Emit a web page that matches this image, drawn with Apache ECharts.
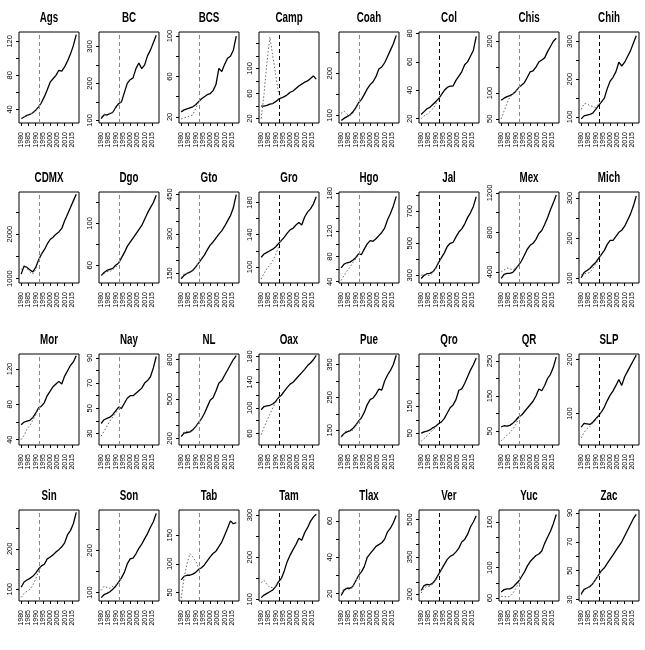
<!DOCTYPE html>
<html>
<head>
<meta charset="utf-8">
<script src="https://cdn.jsdelivr.net/npm/echarts@6/dist/echarts.min.js"></script>
<style>
  html, body { margin: 0; padding: 0; background: #fff; }
  #chart { width: 645px; height: 650px; }
</style>
</head>
<body>
<div id="chart"></div>
<script>
// ---------------- DATA ----------------
const YEARS = [1980,1982,1984,1986,1988,1990,1992,1994,1996,1998,2000,2002,2004,2006,2008,2010,2012,2014,2016,2018];
const SYN_YEARS = [1980,1982,1984,1986,1988,1990,1992,1994];
const X_TICKS = [1980,1985,1990,1995,2000,2005,2010,2015];
const TREATMENT_YEAR = 1992.25;

const STATES = ["Ags","BC","BCS","Camp","Coah","Col","Chis","Chih",
                "CDMX","Dgo","Gto","Gro","Hgo","Jal","Mex","Mich",
                "Mor","Nay","NL","Oax","Pue","Qro","QR","SLP",
                "Sin","Son","Tab","Tam","Tlax","Ver","Yuc","Zac"];

const ags_actual  = [29,31,33,34,36,39,43,48,55,63,72,76,80,86,85,90,97,105,115,128];
const ags_synth   = [29,31,33,34,36,39,43,48];
const bc_actual   = [105,115,115,118,122,135,145,150,175,200,210,215,240,255,240,250,275,290,310,330];
const bc_synth    = [110,118,112,122,120,132,142,150];
const bcs_actual  = [25,27,28,29,30,32,35,38,40,42,43,46,52,68,65,72,78,80,86,100];
const bcs_synth   = [18,19,20,21,22,28,35,38];
const camp_actual = [40,40,41,43,44,47,51,53,55,58,62,64,68,72,75,78,80,84,88,83];
const camp_synth  = [20,60,110,150,120,90,60,53];
const coah_actual = [88,93,97,101,108,118,130,138,150,163,173,180,192,210,215,225,240,255,270,290];
const coah_synth  = [105,110,103,100,105,115,128,138];
const col_actual  = [23,25,27,28,30,32,34,37,40,42,43,43,47,50,53,58,60,64,68,78];
const col_synth   = [20,22,23,25,27,30,34,37];
const chis_actual = [86,90,93,95,98,103,110,115,120,130,141,143,150,160,164,168,180,190,200,206];
const chis_synth  = [50,65,80,92,97,103,110,115];
const chih_actual = [95,103,105,107,110,120,130,140,150,175,195,205,220,245,235,245,260,275,295,315];
const chih_synth  = [120,135,135,130,128,125,135,140];
const cdmx_actual = [1100,1280,1250,1200,1150,1250,1420,1550,1650,1780,1880,1930,2000,2050,2130,2300,2450,2600,2750,2900];
const cdmx_synth  = [1200,1300,1230,1150,1100,1200,1400,1550];
const dgo_actual  = [50,53,55,56,57,60,62,67,72,78,82,86,90,94,98,104,110,115,120,127];
const dgo_synth   = [50,52,54,54,56,58,62,67];
const gto_actual  = [130,143,150,155,162,175,190,205,220,240,258,270,285,300,312,330,350,370,400,450];
const gto_synth   = [135,148,152,153,160,172,190,205];
const gro_actual  = [112,116,118,120,122,125,129,133,137,142,146,148,152,155,152,162,168,172,178,187];
const gro_synth   = [85,92,98,102,108,115,125,133];
const hgo_actual  = [62,68,70,71,74,78,84,83,92,100,105,104,108,113,118,125,138,148,160,175];
const hgo_synth   = [42,50,57,63,70,76,83,85];
const jal_actual  = [280,300,310,312,322,345,380,410,440,480,500,505,540,570,590,620,660,690,730,790];
const jal_synth   = [300,305,300,300,315,340,375,410];
const mex_actual  = [335,375,385,385,395,430,470,510,570,630,670,690,730,790,820,880,950,1030,1100,1180];
const mex_synth   = [400,420,440,430,420,440,470,510];
const mich_actual = [102,115,120,125,133,140,150,160,170,185,195,195,205,215,220,230,245,260,280,305];
const mich_synth  = [110,112,113,115,125,135,146,160];
const mor_actual  = [57,60,61,62,65,70,76,78,82,90,95,100,103,106,103,112,118,124,128,135];
const mor_synth   = [40,45,52,56,62,68,76,78];
const nay_actual  = [38,41,42,43,45,48,51,50,54,58,60,60,62,64,66,70,72,75,82,91];
const nay_synth   = [28,32,36,40,43,46,50,51];
const nl_actual   = [215,240,245,250,265,290,320,350,390,440,490,510,560,620,640,680,720,760,800,830];
const nl_synth    = [220,250,255,245,260,285,320,350];
const oax_actual  = [97,102,103,104,106,110,116,120,126,132,137,140,145,150,155,160,166,170,175,182];
const oax_synth   = [58,70,80,90,100,108,116,120];
const pue_actual  = [130,140,145,148,155,165,178,188,205,228,243,248,260,275,272,300,318,332,350,378];
const pue_synth   = [128,142,150,148,150,162,178,188];
const qro_actual  = [50,55,58,62,70,76,85,92,105,125,145,155,175,210,215,235,260,285,305,330];
const qro_synth   = [20,30,40,50,62,72,84,92];
const qr_actual   = [62,65,64,66,72,80,90,95,105,115,125,135,150,170,165,180,200,212,232,262];
const qr_synth    = [22,30,38,45,55,68,85,95];
const slp_actual  = [75,82,81,80,84,90,96,103,112,124,134,142,152,163,152,168,178,188,198,208];
const slp_synth   = [55,65,72,76,82,88,96,103];
const sin_actual  = [105,118,123,127,132,140,150,158,162,175,180,185,192,198,205,215,235,245,262,290];
const sin_synth   = [80,90,95,100,110,125,145,158];
const son_actual  = [88,95,98,102,108,115,125,135,148,168,180,182,192,205,215,228,240,255,268,288];
const son_synth   = [105,115,112,110,115,118,125,135];
const tab_actual  = [72,78,80,80,82,85,90,93,98,105,112,118,122,130,138,150,162,175,170,172];
const tab_synth   = [40,75,100,118,112,105,92,93];
const tam_actual  = [104,110,114,118,122,130,142,150,168,190,205,218,230,245,240,258,270,285,295,302];
const tam_synth   = [140,145,135,128,128,130,140,150];
const tlax_actual = [19,22,23,23,24,27,30,32,35,40,42,44,46,47,48,50,54,56,59,63];
const tlax_synth  = [20,23,23,22,24,27,30,32];
const ver_actual  = [215,235,240,238,245,260,280,300,320,340,352,358,370,385,410,420,440,470,490,515];
const ver_synth   = [205,225,232,232,240,255,278,300];
const yuc_actual  = [68,71,72,72,74,78,82,88,94,102,108,112,116,118,122,132,140,148,158,170];
const yuc_synth   = [62,62,61,62,66,72,80,88];
const zac_actual  = [34,37,38,39,41,44,47,50,52,55,58,61,64,67,70,74,78,82,86,89];
const zac_synth   = [33,36,38,39,41,44,47,50];

const ACTUAL = [ags_actual,bc_actual,bcs_actual,camp_actual,coah_actual,col_actual,chis_actual,chih_actual,
  cdmx_actual,dgo_actual,gto_actual,gro_actual,hgo_actual,jal_actual,mex_actual,mich_actual,
  mor_actual,nay_actual,nl_actual,oax_actual,pue_actual,qro_actual,qr_actual,slp_actual,
  sin_actual,son_actual,tab_actual,tam_actual,tlax_actual,ver_actual,yuc_actual,zac_actual];
const SYNTH = [ags_synth,bc_synth,bcs_synth,camp_synth,coah_synth,col_synth,chis_synth,chih_synth,
  cdmx_synth,dgo_synth,gto_synth,gro_synth,hgo_synth,jal_synth,mex_synth,mich_synth,
  mor_synth,nay_synth,nl_synth,oax_synth,pue_synth,qro_synth,qr_synth,slp_synth,
  sin_synth,son_synth,tab_synth,tam_synth,tlax_synth,ver_synth,yuc_synth,zac_synth];

// y-axis range, tick values and labelled tick values per panel
const Y_RANGE = [[24,131],[93,339],[14,104],[13,158],[82,298],[17,81],[42,218],[84,325],
  [900,2950],[43,130],[114,460],[80,193],[38,182],[252,820],[288,1210],[89,315],
  [34,137],[21,93],[150,842],[42,184],[105,382],[6,345],[10,270],[42,210],
  [71,296],[80,296],[35,194],[96,312],[16,66],[173,538],[56,176],[29,92]];
const Y_TICKS = [[40,60,80,100,120],[100,150,200,250,300],[20,40,60,80,100],[20,40,60,80,100,120,140],
  [100,150,200,250],[20,40,60,80],[50,100,150,200],[100,150,200,250,300],
  [1000,1500,2000,2500],[60,80,100,120],[150,200,250,300,350,400,450],[100,120,140,160,180],
  [40,60,80,100,120,140,160,180],[300,400,500,600,700,800],[400,600,800,1000,1200],[100,150,200,250,300],
  [40,60,80,100,120],[30,40,50,60,70,80,90],[200,300,400,500,600,700,800],[60,80,100,120,140,160,180],
  [150,200,250,300,350],[50,100,150,200,250,300],[50,100,150,200,250],[100,150,200],
  [100,150,200,250],[100,150,200,250],[50,100,150],[100,150,200,250,300],
  [20,30,40,50,60],[200,250,300,350,400,450,500],[60,80,100,120,140,160],[30,40,50,60,70,80,90]];
const Y_LABELS = [[40,80,120],[100,200,300],[20,60,100],[20,60,100],[100,200],[20,40,60,80],[50,100,200],[100,200,300],
  [1000,2000],[60,100],[150,300,450],[100,140,180],[40,80,120,180],[300,500,700],[400,800,1200],[100,200,300],
  [40,80,120],[30,50,70,90],[200,500,800],[60,100,140,180],[150,250,350],[50,150],[50,150,250],[100,200],
  [100,200],[100,200],[50,100,150],[100,200,300],[20,40,60],[200,350,500],[60,100,160],[30,50,70,90]];

// ---------------- LAYOUT ----------------
const NCOL = 8;
const ROW_TOPS = [32, 192, 354, 510];
const BOX_W = 60, BOX_H = 91;
const X_MIN = 1978.5, X_MAX = 2019.9;
const FONT = "'Liberation Sans', Arial, sans-serif";

const grids = [], xAxes = [], yAxes = [], series = [], graphics = [];
STATES.forEach((name, i) => {
  const r = Math.floor(i / NCOL), c = i % NCOL;
  const left = 19 + 80 * c, top = ROW_TOPS[r];
  grids.push({ left: left, top: top, width: BOX_W, height: BOX_H, show: true,
    borderColor: '#000', borderWidth: 1, backgroundColor: 'transparent', containLabel: false, outerBoundsMode: 'none' });
  graphics.push({ type: 'text', x: left + BOX_W / 2, y: top - 21, scaleX: 0.7, scaleY: 1.05, silent: true,
    style: { text: name, fill: '#000', font: "bold 14px 'Liberation Sans', Arial, sans-serif",
      textAlign: 'center', textVerticalAlign: 'top' } });
  xAxes.push({ type: 'value', gridIndex: i, min: X_MIN, max: X_MAX,
    axisLine: { show: false }, splitLine: { show: false },
    axisTick: { show: true, length: 3, lineStyle: { color: '#000' }, customValues: X_TICKS },
    axisLabel: { rotate: 90, margin: 9, fontSize: 7, fontFamily: FONT, color: '#000', customValues: X_TICKS,
      showMinLabel: true, showMaxLabel: true, hideOverlap: false,
      formatter: v => String(v) } });
  yAxes.push({ type: 'value', gridIndex: i, min: Y_RANGE[i][0], max: Y_RANGE[i][1],
    axisLine: { show: false }, splitLine: { show: false },
    axisTick: { show: true, length: 3, lineStyle: { color: '#000' }, customValues: Y_TICKS[i] },
    axisLabel: { rotate: 90, margin: 5, fontSize: 7.5, fontFamily: FONT, color: '#000', customValues: Y_LABELS[i],
      showMinLabel: true, showMaxLabel: true, hideOverlap: false,
      formatter: v => String(v) } });
  const dashColor = (c % 2 === 1 && c !== 1) ? '#000' : '#888';
  series.push({ type: 'line', xAxisIndex: i, yAxisIndex: i, showSymbol: false, symbol: 'none',
    data: YEARS.map((y, k) => [y, ACTUAL[i][k]]),
    lineStyle: { color: '#000', width: 1.3 }, z: 3,
    markLine: { silent: true, symbol: ['none', 'none'], label: { show: false },
      lineStyle: { type: [4, 3], color: dashColor, width: 1 },
      data: [{ xAxis: TREATMENT_YEAR }] } });
  series.push({ type: 'line', xAxisIndex: i, yAxisIndex: i, showSymbol: false, symbol: 'none',
    data: SYN_YEARS.map((y, k) => [y, SYNTH[i][k]]),
    lineStyle: { color: '#666', width: 1, type: [1.5, 2] }, z: 4 });
});

const chart = echarts.init(document.getElementById('chart'), null, { renderer: 'canvas' });
chart.setOption({
  animation: false,
  backgroundColor: '#fff',
  graphic: graphics,
  grid: grids,
  xAxis: xAxes,
  yAxis: yAxes,
  series: series
});
</script>
</body>
</html>
